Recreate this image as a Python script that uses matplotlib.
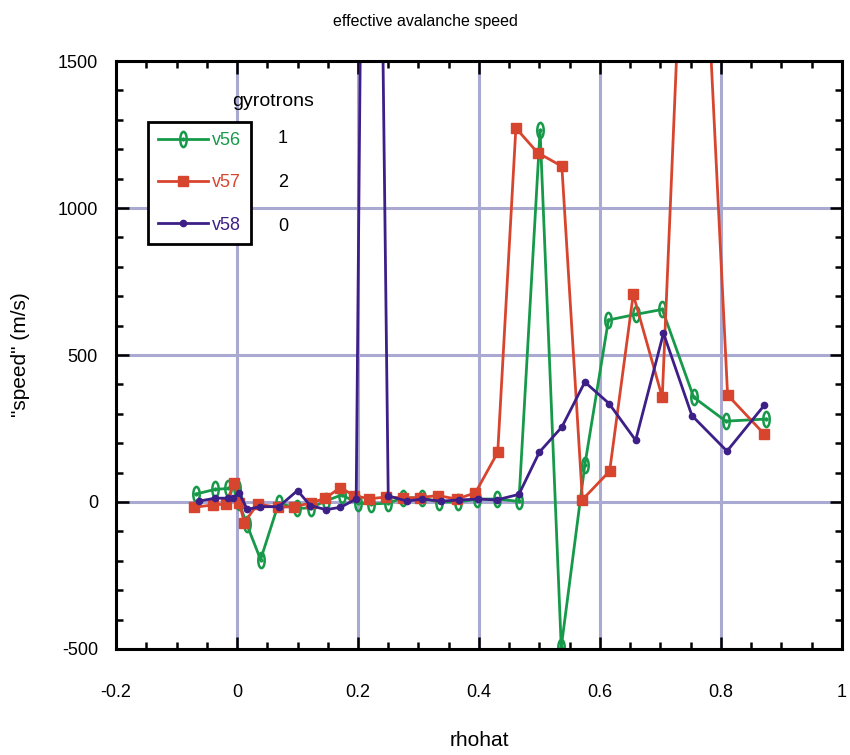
import matplotlib
matplotlib.use('Agg')
import matplotlib.pyplot as plt
from matplotlib.path import Path
from matplotlib.transforms import Affine2D
from matplotlib.ticker import MultipleLocator

plt.rcParams['font.family'] = ['Liberation Sans', 'DejaVu Sans']

# data
x_v56 = [-0.068, -0.036, -0.015, 0.000, 0.003, 0.016, 0.039, 0.069, 0.099, 0.122,
         0.147, 0.173, 0.200, 0.222, 0.249, 0.275, 0.306, 0.334, 0.366, 0.397,
         0.430, 0.466, 0.501, 0.536, 0.575, 0.614, 0.659, 0.703, 0.755, 0.808, 0.874]
y_v56 = [27, 43, 46, 46, 0, -75, -196, -3, -22, -20,
         4, 24, -4, -7, -4, 14, 14, 0, 0, 10,
         10, 2, 1264, -494, 126, 619, 638, 655, 356, 275, 282]

x_v57 = [-0.071, -0.040, -0.018, -0.005, 0.004, 0.012, 0.034, 0.067, 0.095, 0.122,
         0.145, 0.171, 0.193, 0.219, 0.247, 0.274, 0.302, 0.332, 0.363, 0.394,
         0.431, 0.461, 0.497, 0.537, 0.571, 0.616, 0.655, 0.703, 0.753, 0.811, 0.872]
y_v57 = [-18, -10, -7, 66, -4, -70, -7, -18, -16, -3,
         12, 49, 22, 11, 17, 14, 15, 22, 10, 31,
         169, 1272, 1188, 1142, 8, 105, 706, 356, 2800, 364, 230]

x_v58 = [-0.063, -0.036, -0.015, -0.006, 0.003, 0.017, 0.038, 0.069, 0.100, 0.121,
         0.147, 0.171, 0.197, 0.220, 0.250, 0.281, 0.306, 0.337, 0.367, 0.398,
         0.429, 0.466, 0.500, 0.537, 0.575, 0.615, 0.659, 0.705, 0.752, 0.810, 0.872]
y_v58 = [3, 13, 13, 13, 32, -25, -16, -16, 39, -12,
         -26, -18, 10, 5200, 21, 3, 10, 3, 7, 10,
         7, 26, 170, 255, 408, 335, 210, 574, 294, 173, 330]

names = ['v56', 'v57', 'v58']
gyrotrons = ['1', '2', '0']
colors = ['#17994a', '#d8452f', '#3d1f88']

# tall ellipse with a centre dot for v56
ell = Path.unit_circle().transformed(Affine2D().scale(0.42, 1.0))
dot = Path.unit_circle().transformed(Affine2D().scale(0.08, 0.12))
ellipse_marker = Path.make_compound_path(ell, dot)

fig = plt.figure(figsize=(8.5, 7.55), dpi=100)
ax = fig.add_axes([0.1365, 0.1404, 0.854, 0.7788])

ax.plot(x_v56, y_v56, color=colors[0], lw=2.0, marker=ellipse_marker, ms=11,
        mfc='none', mec=colors[0], mew=1.8, label=names[0])
ax.plot(x_v57, y_v57, color=colors[1], lw=2.0, marker='s', ms=6.5,
        mfc=colors[1], mec=colors[1], label=names[1])
ax.plot(x_v58, y_v58, color=colors[2], lw=2.0, marker='o', ms=4.5,
        mfc=colors[2], mec=colors[2], label=names[2])

ax.set_xlim(-0.2, 1.0)
ax.set_ylim(-500, 1500)
ax.xaxis.set_minor_locator(MultipleLocator(0.05))
ax.yaxis.set_minor_locator(MultipleLocator(100))
ax.set_xticks([-0.2, 0, 0.2, 0.4, 0.6, 0.8, 1.0])
ax.set_xticklabels(['-0.2', '0', '0.2', '0.4', '0.6', '0.8', '1'])
ax.set_yticks([-500, 0, 500, 1000, 1500])
ax.set_yticklabels(['-500', '0', '500', '1000', '1500'])

ax.grid(True, which='major', color='#a9a9d2', lw=2.2)
ax.set_axisbelow(True)
ax.tick_params(which='both', direction='in', top=True, right=True, width=1.8,
               labelsize=13, color='black')
ax.tick_params(which='major', length=9)
ax.tick_params(which='minor', length=5)
ax.tick_params(axis='x', pad=25)
ax.tick_params(axis='y', pad=13)
for s in ax.spines.values():
    s.set_linewidth(2.2)

ax.set_xlabel('rhohat', fontsize=15, labelpad=22)
ax.set_ylabel('"speed" (m/s)', fontsize=15, labelpad=20)
fig.text(0.5, 0.972, 'effective avalanche speed', ha='center', va='center', fontsize=11.5)

leg = ax.legend(loc='upper left', bbox_to_anchor=(0.044, 0.896), frameon=True,
                fancybox=False, edgecolor='black', framealpha=1, fontsize=13,
                labelcolor='linecolor', handlelength=2.8, handletextpad=0.2,
                labelspacing=1.4, borderpad=0.55, borderaxespad=0)
leg.get_frame().set_linewidth(2.0)

ax.text(0.217, 0.931, 'gyrotrons', transform=ax.transAxes, ha='center', va='center', fontsize=14)
for i, g in enumerate(gyrotrons):
    ax.text(0.230, 0.869 - i * 0.0755, g, transform=ax.transAxes, ha='center',
            va='center', fontsize=13)

plt.savefig('out.png', dpi=100)
plt.close()
